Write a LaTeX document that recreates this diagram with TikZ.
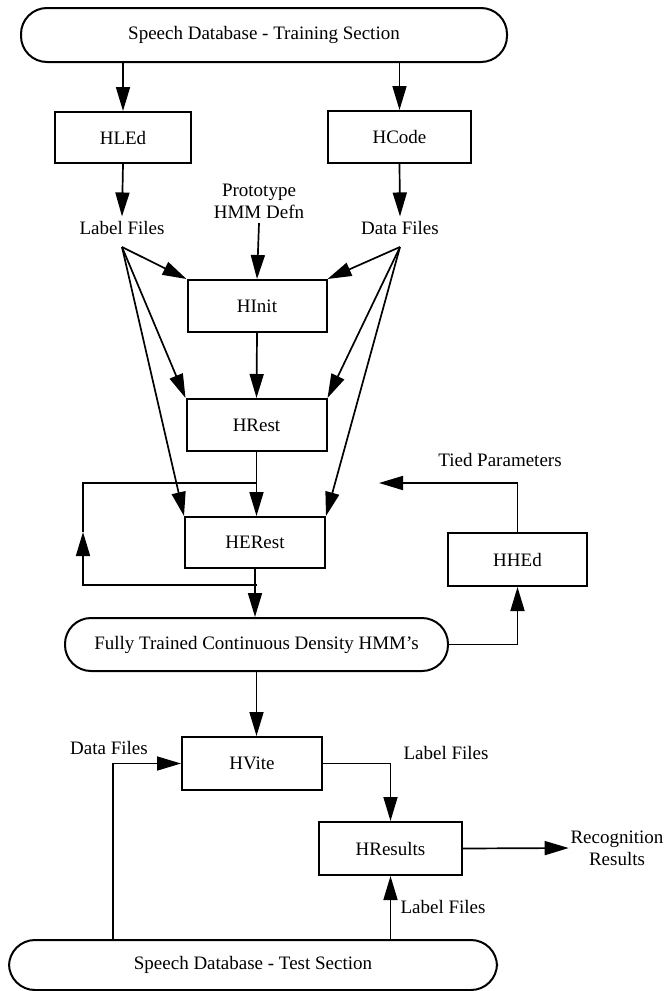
\documentclass[tikz,border=0pt]{standalone}
\usepackage{fontspec}
\setmainfont{Liberation Serif}
\usetikzlibrary{arrows.meta}
\begin{document}
\begin{tikzpicture}[x=1pt,y=-1pt,
  font=\fontsize{19}{22}\selectfont,
  line width=1.7pt,
  proc/.style={draw, line width=2pt, rectangle, minimum width=140pt, minimum height=52pt, inner sep=0pt},
  store/.style={draw, line width=2pt, rectangle, rounded corners=26pt, minimum height=53pt, inner sep=0pt},
  lbl/.style={inner sep=4pt, align=center},
  arr/.style={-{Triangle[length=24pt,width=14pt]}}]
  \fill[white] (0,0) rectangle (669,991);
  \useasboundingbox (0,0) rectangle (669,991);

  % training database and the two front-end tools
  \node[store, minimum width=486pt, minimum height=54pt] (top) at (264,35) {Speech Database - Training Section};
  \node[proc, minimum width=136pt, minimum height=51pt] (hled) at (123,137.5) {HLEd};
  \node[proc, minimum width=143pt] (hcode) at (399.5,137) {HCode};
  \node[lbl] (lbl1) at (122,228) {Label Files};
  \node[lbl] (data1) at (400,228) {Data Files};
  \node[lbl] (proto) at (259,201) {Prototype\\HMM Defn};

  % training chain
  \node[proc, minimum width=139pt] (hinit) at (257,306) {HInit};
  \node[proc] (hrest) at (256.5,425) {HRest};
  \node[proc, minimum height=51pt] (herest) at (255,542.5) {HERest};
  \node[proc, minimum width=139pt, minimum height=53pt] (hhed) at (517.5,559.5) {HHEd};
  \node[lbl] (tied) at (500,460) {Tied Parameters};
  \node[store, minimum width=383pt] (fully) at (256.5,644.5) {Fully Trained Continuous Density HMM's};

  % recognition and scoring
  \node[proc, minimum height=53pt] (hvite) at (252,763.5) {HVite};
  \node[proc, minimum width=143pt, minimum height=53pt] (hres) at (390.5,848.5) {HResults};
  \node[lbl, inner sep=1pt] (recog) at (617,848) {Recognition\\Results};
  \node[lbl] (data2) at (109,748) {Data Files};
  \node[lbl] (lbl2) at (446,753) {Label Files};
  \node[lbl] (lbl3) at (443,907) {Label Files};
  \node[store, minimum width=488pt, minimum height=50pt] (bottom) at (253,965) {Speech Database - Test Section};

  % fan-out points below the file labels
  \coordinate (lf) at (122,247);
  \coordinate (df) at (400,247);
  % HERest re-estimation loop
  \coordinate (jt) at (256.5,483);
  \coordinate (jb) at (256.5,585);
  \coordinate (ft) at (83,483);
  \coordinate (fm) at (83,532);
  \coordinate (fb) at (83,585);
  \coordinate (tip) at (379,483);
  \coordinate (ds) at (113,940);

  % connectors
  \draw[arr] (hled.north |- top.south) -- (hled.north);
  \draw[arr] (hcode.north |- top.south) -- (hcode.north);
  \draw[arr] (hled.south) -- (lbl1.north);
  \draw[arr] (hcode.south) -- (data1.north);
  \draw[arr] (proto.south) -- (hinit.north);

  \draw[arr] (lf) -- (hinit.north west);
  \draw[arr] (lf) -- (hrest.north west);
  \draw[arr] (lf) -- (herest.north west);
  \draw[arr] (df) -- (hinit.north east);
  \draw[arr] (df) -- (hrest.north east);
  \draw[arr] (df) -- (herest.north east);

  \draw[arr] (hinit.south) -- (hrest.south |- hrest.north);
  \draw[arr] (hrest.south) -- (herest.north -| hrest.south);
  \draw[arr] (herest.south) -- (herest.south |- fully.north);
  \draw[arr] (jb) -- (fb) -- (fm);
  \draw (fm) -- (ft) -- (jt);

  \draw[arr] (fully.east) -| (hhed.south);
  \draw[arr] (hhed.north) |- (tip);

  \draw[arr] (fully.south) -- (hvite.north -| fully.south);
  \draw[arr] (ds) |- (hvite.west);
  \draw[arr] (hvite.east) -| (hres.north);
  \draw[arr] (hres.south |- bottom.north) -- (hres.south);
  \draw[arr] (hres.east) -- (recog.west);
\end{tikzpicture}
\end{document}
